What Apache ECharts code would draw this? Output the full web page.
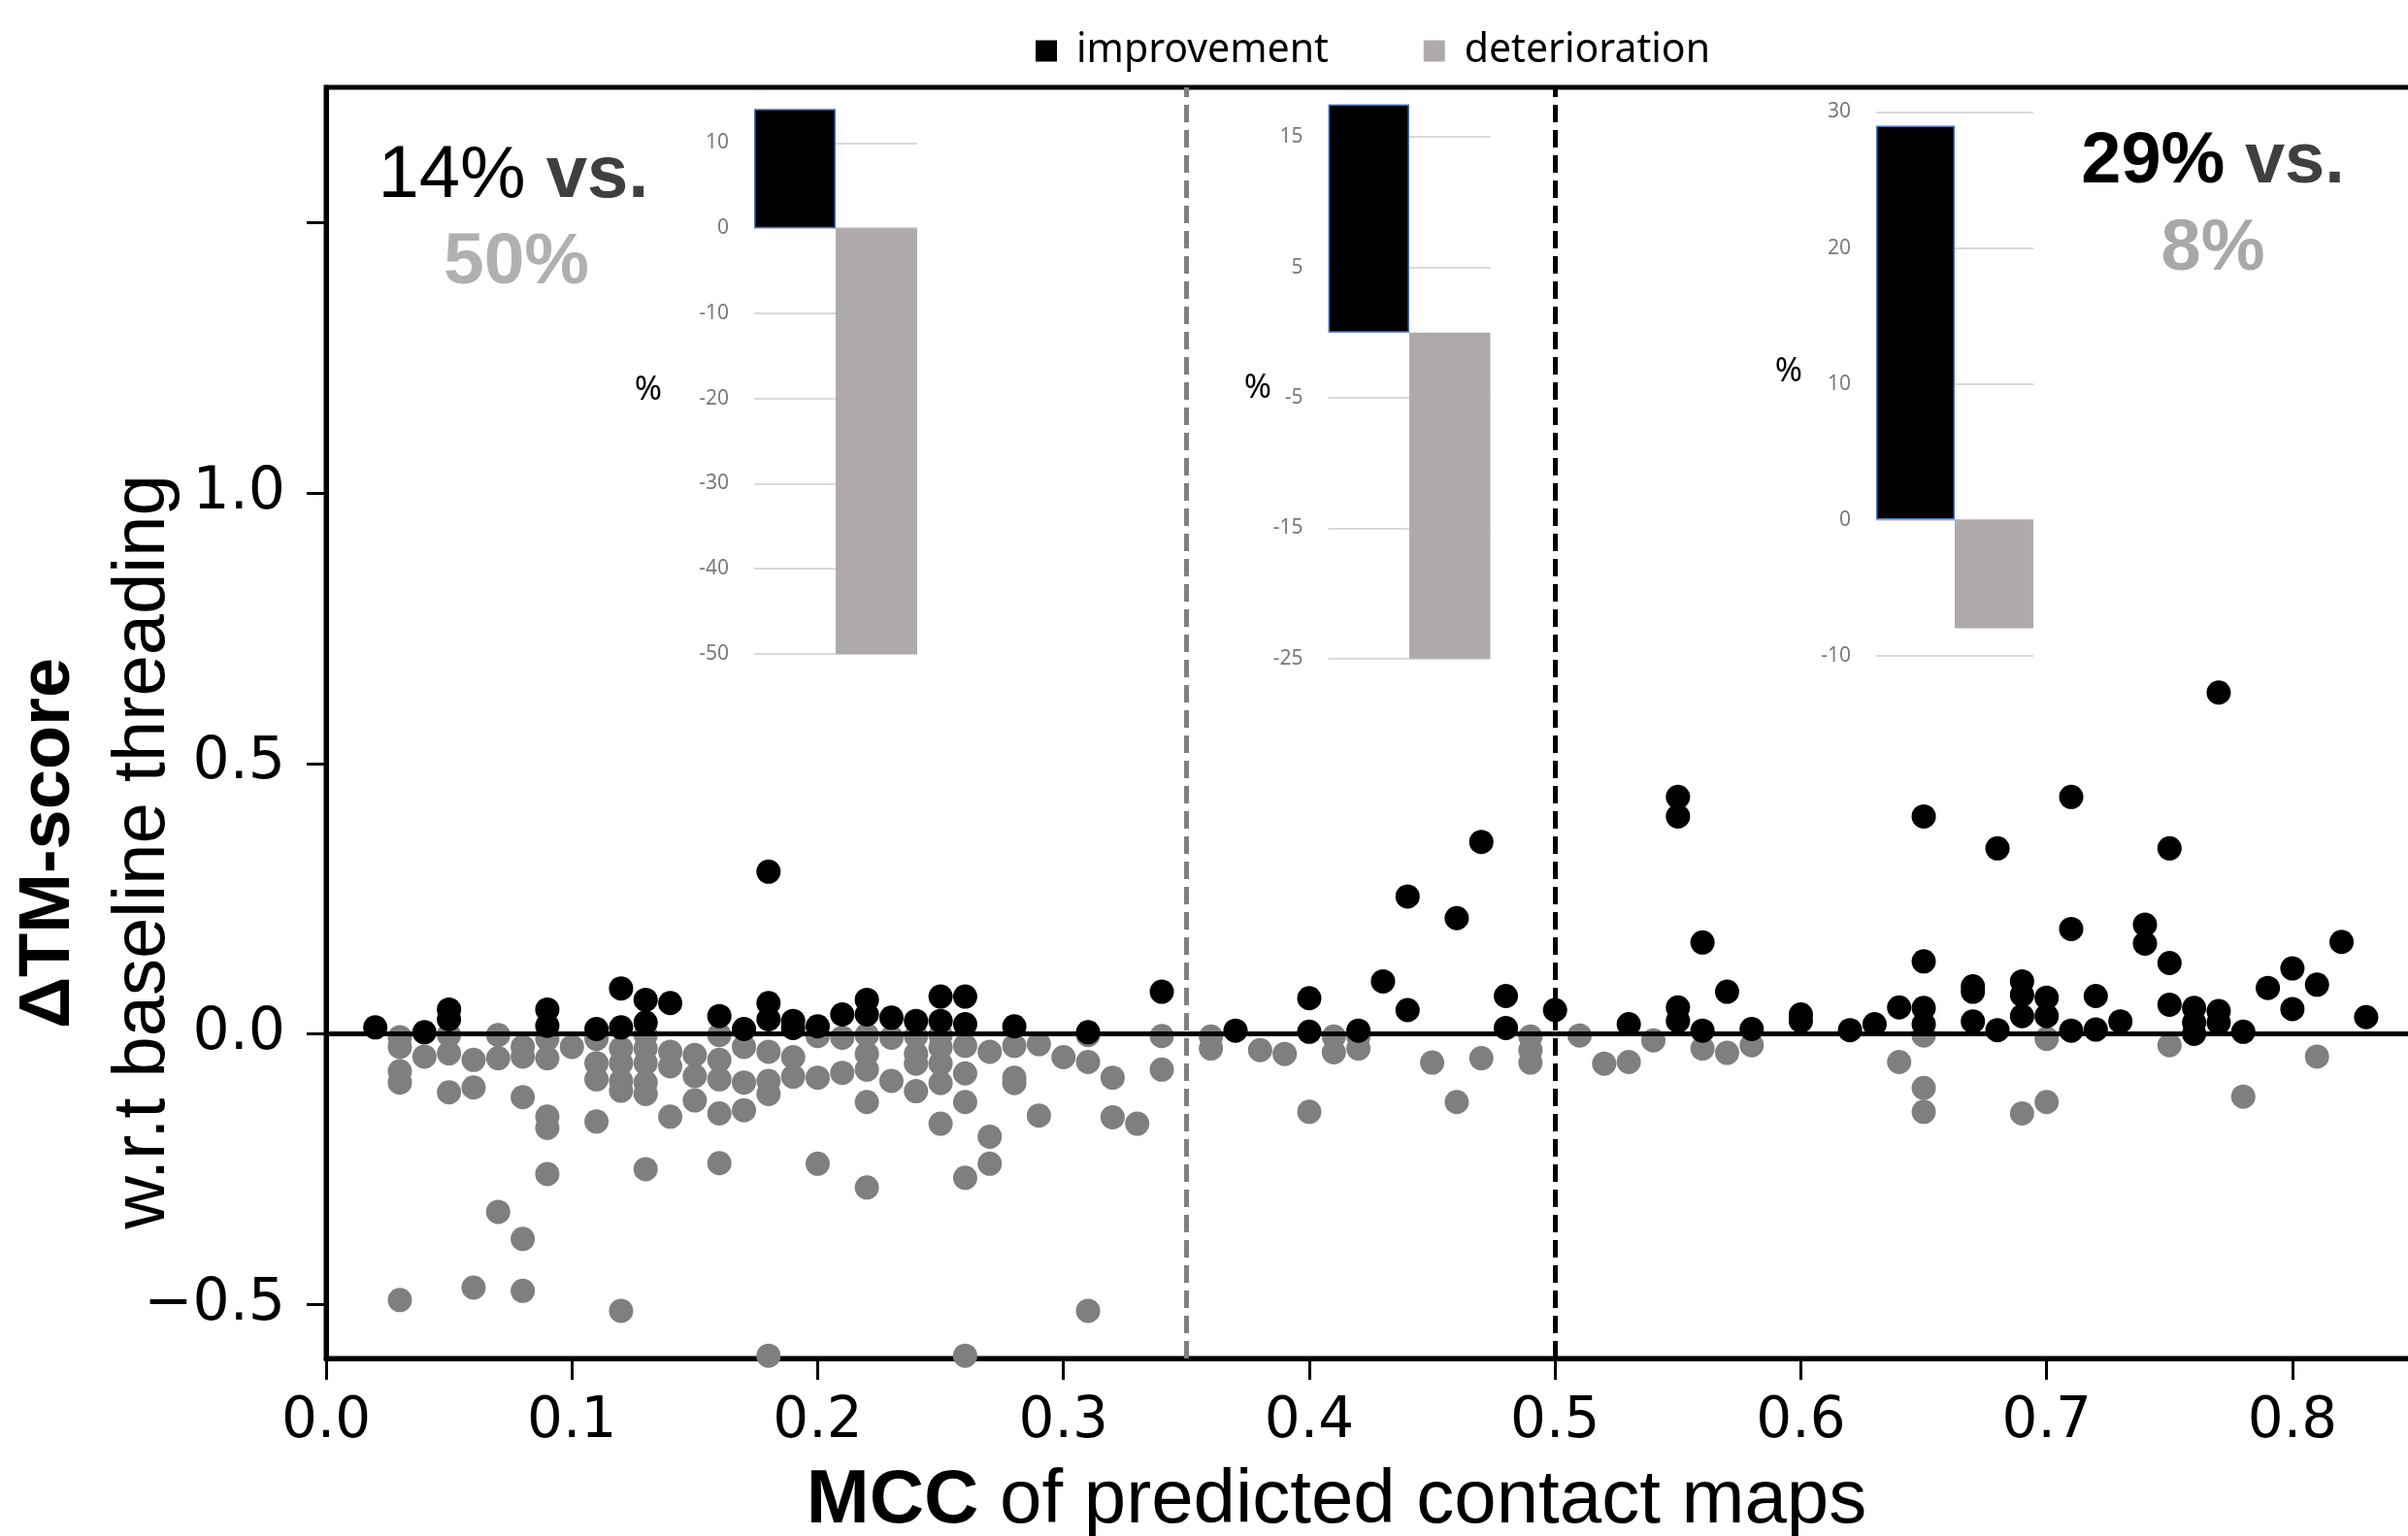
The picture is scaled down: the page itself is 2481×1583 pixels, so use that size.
<!DOCTYPE html>
<html>
<head>
<meta charset="utf-8">
<script src="https://cdn.jsdelivr.net/npm/echarts@6/dist/echarts.min.js"></script>
<style>
    html, body { margin: 0; padding: 0; background: #fff; }
    #chart { width: 2481px; height: 1583px; }
</style>
</head>
<body>
<div id="chart"></div>
<script>
// [MCC, ΔTM-score] per target
const improvementPoints = [
    [0.02, 0.012], [0.04, 0.003], [0.05, 0.045], [0.05, 0.027], [0.09, 0.045], [0.09, 0.015],
    [0.11, 0.009], [0.12, 0.084], [0.12, 0.012], [0.13, 0.063], [0.13, 0.021], [0.14, 0.057],
    [0.16, 0.033], [0.17, 0.009], [0.18, 0.30], [0.18, 0.057], [0.18, 0.027], [0.19, 0.024],
    [0.19, 0.011], [0.20, 0.014], [0.21, 0.036], [0.22, 0.063], [0.22, 0.036], [0.23, 0.030],
    [0.24, 0.024], [0.25, 0.069], [0.25, 0.024], [0.26, 0.069], [0.26, 0.018], [0.28, 0.014],
    [0.31, 0.003], [0.34, 0.078], [0.37, 0.006], [0.40, 0.066], [0.40, 0.004], [0.42, 0.006],
    [0.43, 0.097], [0.44, 0.254], [0.44, 0.044], [0.46, 0.214], [0.47, 0.355], [0.48, 0.070],
    [0.48, 0.011], [0.50, 0.044], [0.53, 0.018], [0.55, 0.438], [0.55, 0.402], [0.55, 0.049],
    [0.55, 0.024], [0.56, 0.169], [0.56, 0.006], [0.57, 0.078], [0.58, 0.009], [0.60, 0.036],
    [0.60, 0.024], [0.62, 0.007], [0.63, 0.018], [0.64, 0.049], [0.65, 0.402], [0.65, 0.134],
    [0.65, 0.048], [0.65, 0.018], [0.67, 0.088], [0.67, 0.078], [0.67, 0.023], [0.68, 0.343],
    [0.68, 0.007], [0.69, 0.097], [0.69, 0.072], [0.69, 0.033], [0.70, 0.067], [0.70, 0.033],
    [0.71, 0.438], [0.71, 0.194], [0.71, 0.006], [0.72, 0.070], [0.72, 0.008], [0.73, 0.023],
    [0.74, 0.202], [0.74, 0.167], [0.75, 0.343], [0.75, 0.131], [0.75, 0.054], [0.76, 0.048],
    [0.76, 0.021], [0.76, 0.0], [0.77, 0.631], [0.77, 0.042], [0.77, 0.021], [0.78, 0.004],
    [0.79, 0.085], [0.80, 0.121], [0.80, 0.046], [0.81, 0.091], [0.82, 0.170], [0.83, 0.031]
];

const deteriorationPoints = [
    [0.03, -0.006], [0.03, -0.024], [0.03, -0.069], [0.03, -0.090], [0.03, -0.492],
    [0.04, -0.042], [0.05, -0.002], [0.05, -0.036], [0.05, -0.108],
    [0.06, -0.048], [0.06, -0.099], [0.06, -0.469], [0.07, -0.002], [0.07, -0.045], [0.07, -0.329],
    [0.08, -0.024], [0.08, -0.042], [0.08, -0.117], [0.08, -0.379], [0.08, -0.475],
    [0.09, -0.009], [0.09, -0.045], [0.09, -0.153], [0.09, -0.174], [0.09, -0.259],
    [0.10, -0.024], [0.11, -0.009], [0.11, -0.054], [0.11, -0.084], [0.11, -0.162],
    [0.12, -0.027], [0.12, -0.054], [0.12, -0.087], [0.12, -0.105], [0.12, -0.512],
    [0.13, -0.002], [0.13, -0.027], [0.13, -0.054], [0.13, -0.090], [0.13, -0.111], [0.13, -0.250],
    [0.14, -0.033], [0.14, -0.060], [0.14, -0.153], [0.15, -0.039], [0.15, -0.078], [0.15, -0.123],
    [0.16, -0.002], [0.16, -0.048], [0.16, -0.084], [0.16, -0.147], [0.16, -0.239],
    [0.17, -0.024], [0.17, -0.090], [0.17, -0.141], [0.18, -0.033], [0.18, -0.087], [0.18, -0.111],
    [0.18, -0.595], [0.19, -0.043], [0.19, -0.079], [0.20, -0.004], [0.20, -0.081], [0.20, -0.240],
    [0.21, -0.007], [0.21, -0.072], [0.22, -0.002], [0.22, -0.037], [0.22, -0.066], [0.22, -0.126],
    [0.22, -0.284], [0.23, -0.007], [0.23, -0.087], [0.24, -0.004], [0.24, -0.037], [0.24, -0.055],
    [0.24, -0.106], [0.25, -0.002], [0.25, -0.025], [0.25, -0.055], [0.25, -0.091], [0.25, -0.166],
    [0.26, -0.022], [0.26, -0.073], [0.26, -0.126], [0.26, -0.266], [0.26, -0.595],
    [0.27, -0.033], [0.27, -0.190], [0.27, -0.240], [0.28, -0.022], [0.28, -0.081], [0.28, -0.091],
    [0.29, -0.019], [0.29, -0.151], [0.30, -0.043], [0.31, -0.002], [0.31, -0.052], [0.31, -0.512],
    [0.32, -0.081], [0.32, -0.154], [0.33, -0.166], [0.34, -0.004], [0.34, -0.066],
    [0.36, -0.005], [0.36, -0.027], [0.38, -0.030], [0.39, -0.037], [0.40, -0.144],
    [0.41, -0.005], [0.41, -0.034], [0.42, -0.005], [0.42, -0.027], [0.45, -0.053], [0.46, -0.126],
    [0.47, -0.045], [0.49, -0.005], [0.49, -0.030], [0.49, -0.053], [0.51, -0.003], [0.52, -0.055],
    [0.53, -0.052], [0.54, -0.012], [0.56, -0.027], [0.57, -0.035], [0.58, -0.021], [0.64, -0.052],
    [0.65, -0.003], [0.65, -0.100], [0.65, -0.144], [0.69, -0.147], [0.70, -0.009], [0.70, -0.126],
    [0.75, -0.021], [0.78, -0.116], [0.81, -0.042]
];

const mccTicks = [0, 0.1, 0.2, 0.3, 0.4, 0.5, 0.6, 0.7, 0.8];
const deltaLabels = [-0.5, 0, 0.5, 1.0];
const deltaTicks = [-0.5, 0, 0.5, 1.0, 1.5];
const mccThresholds = [0.35, 0.5];

// inset bar charts: % of targets per MCC bin
const binImprovement = [14, 17.5, 29];
const binDeterioration = [-50, -25, -8];
const binAxisMin = [-50, -25, -10];
const binAxisMax = [14, 17.5, 30];
const binCategories = ['improvement', 'deterioration'];

// inset placement (pixels)
const insetBoxes = [
    { left: 777, top: 112.3, width: 168, height: 561.7, pct: [668, 402] },
    { left: 1368.5, top: 107.6, width: 167, height: 571.2, pct: [1296, 400] },
    { left: 1933, top: 115.5, width: 162, height: 560.1, pct: [1843, 383] }
];

const chart = echarts.init(document.getElementById('chart'), null, { renderer: 'canvas' });

const fmtDelta = (v) => (v < 0 ? '\u2212' : '') + Math.abs(v).toFixed(1);

const grids = [{
    left: 336, top: 90, width: 2150, height: 1310,
    show: true, borderColor: '#000', borderWidth: 5, backgroundColor: 'transparent',
    outerBoundsMode: 'none', containLabel: false
}];
const xAxes = [{
    type: 'value', gridIndex: 0, min: 0, max: 0.849,
    axisLine: { show: true, onZero: false, lineStyle: { color: '#000', width: 5 } },
    axisTick: { show: true, length: 22, customValues: mccTicks, lineStyle: { color: '#000', width: 3 } },
    axisLabel: {
        show: true, customValues: mccTicks, margin: 37,
        fontFamily: 'DejaVu Sans', fontSize: 58, color: '#000',
        formatter: (v) => v.toFixed(1)
    },
    splitLine: { show: false }
}];
const yAxes = [{
    type: 'value', gridIndex: 0, min: -0.6, max: 1.75,
    axisLine: { show: true, onZero: false, lineStyle: { color: '#000', width: 5 } },
    axisTick: { show: true, length: 20, customValues: deltaTicks, lineStyle: { color: '#000', width: 3 } },
    axisLabel: {
        show: true, customValues: deltaLabels, margin: 42,
        fontFamily: 'DejaVu Sans', fontSize: 60, color: '#000',
        formatter: fmtDelta
    },
    splitLine: { show: false }
}];

const series = [
    {
        type: 'scatter', name: 'deterioration', xAxisIndex: 0, yAxisIndex: 0,
        data: deteriorationPoints, symbol: 'circle', symbolSize: 25, z: 2,
        itemStyle: { color: '#7f7f7f', opacity: 1 },
        markLine: {
            silent: true, symbol: ['none', 'none'], label: { show: false },
            lineStyle: { type: [18, 8], width: 5 },
            data: [
                { xAxis: mccThresholds[0], lineStyle: { color: '#808080', type: [18, 8], width: 5 } },
                { xAxis: mccThresholds[1], lineStyle: { color: '#000', type: [18, 8], width: 5 } }
            ]
        }
    },
    {
        type: 'scatter', name: 'improvement', xAxisIndex: 0, yAxisIndex: 0,
        data: improvementPoints, symbol: 'circle', symbolSize: 25, z: 3,
        itemStyle: { color: '#000', opacity: 1 },
        markLine: {
            silent: true, symbol: ['none', 'none'], label: { show: false },
            data: [{ yAxis: 0, lineStyle: { color: '#000', type: 'solid', width: 5 } }]
        }
    }
];

const graphics = [];

insetBoxes.forEach((box, i) => {
    const g = i + 1;
    const topIsTick = binAxisMax[i] % 10 === binAxisMin[i] % 10;
    grids.push({
        left: box.left, top: box.top, width: box.width, height: box.height,
        show: false, outerBoundsMode: 'none', containLabel: false
    });
    xAxes.push({
        type: 'category', gridIndex: g, data: binCategories, show: false,
        boundaryGap: true
    });
    yAxes.push({
        type: 'value', gridIndex: g, min: binAxisMin[i], max: binAxisMax[i], interval: 10,
        axisLine: { show: false },
        axisTick: { show: false },
        axisLabel: {
            show: true, margin: 26, showMaxLabel: topIsTick,
            fontFamily: 'Noto Sans', fontSize: 21, color: '#7a7a7a'
        },
        splitLine: {
            show: true, showMinLine: true, showMaxLine: topIsTick,
            lineStyle: { color: '#d9d9d9', width: 2 }
        }
    });
    series.push({
        type: 'bar', name: 'improvement', xAxisIndex: g, yAxisIndex: g,
        stack: 'bin' + i, barWidth: '100%',
        data: [binImprovement[i], '-'],
        itemStyle: { color: '#000', borderColor: '#4472c4', borderWidth: 1.5 }
    });
    series.push({
        type: 'bar', name: 'deterioration', xAxisIndex: g, yAxisIndex: g,
        stack: 'bin' + i, barWidth: '100%',
        data: ['-', binDeterioration[i]],
        itemStyle: { color: '#aeaaaa' }
    });
    graphics.push({
        type: 'text', x: box.pct[0], y: box.pct[1],
        style: {
            text: '%', font: '34px "Noto Sans"', fill: '#000',
            textAlign: 'center', textVerticalAlign: 'middle'
        }
    });
});

const bigFont = '"Liberation Sans", Arial, sans-serif';

graphics.push(
    {
        type: 'text', x: 529, y: 182,
        style: {
            text: '{a|14%}{b| vs.}', textAlign: 'center', textVerticalAlign: 'middle',
            rich: {
                a: { fontFamily: bigFont, fontSize: 76, fill: '#000', color: '#000' },
                b: { fontFamily: bigFont, fontSize: 76, fontWeight: 'bold', fill: '#3f3f3f', color: '#3f3f3f' }
            }
        }
    },
    {
        type: 'text', x: 532, y: 271,
        style: {
            text: '50%', font: 'bold 75px ' + bigFont, fill: '#b0b0b0',
            textAlign: 'center', textVerticalAlign: 'middle'
        }
    },
    {
        type: 'text', x: 2280, y: 168,
        style: {
            text: '{a|29%}{b| vs.}', textAlign: 'center', textVerticalAlign: 'middle',
            rich: {
                a: { fontFamily: bigFont, fontSize: 74, fontWeight: 'bold', fill: '#000', color: '#000' },
                b: { fontFamily: bigFont, fontSize: 74, fontWeight: 'bold', fill: '#3f3f3f', color: '#3f3f3f' }
            }
        }
    },
    {
        type: 'text', x: 2280, y: 258,
        style: {
            text: '8%', font: 'bold 74px ' + bigFont, fill: '#a8a8a8',
            textAlign: 'center', textVerticalAlign: 'middle'
        }
    },
    {
        type: 'text', x: 1377, y: 1547,
        style: {
            text: '{b|MCC}{r| of predicted contact maps}', textAlign: 'center', textVerticalAlign: 'middle',
            rich: {
                b: { fontFamily: bigFont, fontSize: 78, fontWeight: 'bold', fill: '#000', color: '#000' },
                r: { fontFamily: bigFont, fontSize: 78, fill: '#000', color: '#000' }
            }
        }
    },
    {
        type: 'text', x: 51, y: 869, rotation: Math.PI / 2,
        style: {
            text: '\u0394TM-score', font: 'bold 74px ' + bigFont, fill: '#000',
            textAlign: 'center', textVerticalAlign: 'middle'
        }
    },
    {
        type: 'text', x: 148, y: 878, rotation: Math.PI / 2,
        style: {
            text: 'w.r.t baseline threading', font: '76px ' + bigFont, fill: '#000',
            textAlign: 'center', textVerticalAlign: 'middle'
        }
    }
);

const option = {
    animation: false,
    backgroundColor: '#fff',
    legend: {
        data: [
            { name: 'improvement', itemStyle: { color: '#000', borderWidth: 0 } },
            { name: 'deterioration', itemStyle: { color: '#aeaaaa', borderWidth: 0 } }
        ],
        icon: 'rect', itemWidth: 22, itemHeight: 22,
        left: 1062, top: 27, itemGap: 98, selectedMode: false,
        textStyle: { fontFamily: 'Noto Sans', fontSize: 41, color: '#000', padding: [0, 0, 0, 15] }
    },
    grid: grids,
    xAxis: xAxes,
    yAxis: yAxes,
    series,
    graphic: { elements: graphics }
};

chart.setOption(option);
</script>
</body>
</html>
